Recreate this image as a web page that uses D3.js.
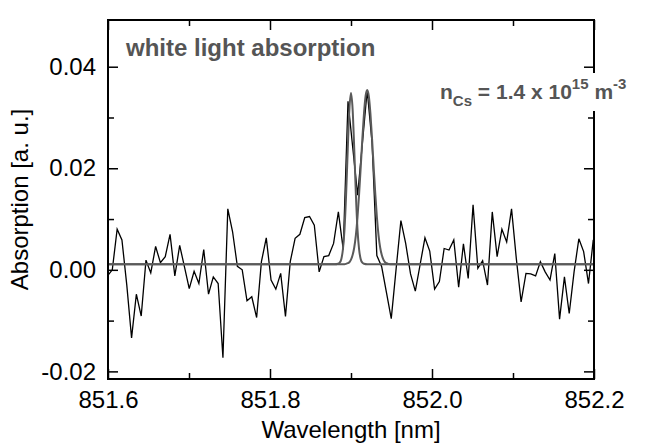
<!DOCTYPE html>
<html><head><meta charset="utf-8">
<script src="https://cdn.jsdelivr.net/npm/d3@7"></script>
<style>body{margin:0;background:#fff}svg{display:block}text{font-family:"Liberation Sans",Arial,sans-serif}</style>
</head><body><svg id="c" width="656" height="444"></svg>
<script>
const wavelengths = [851.5994,851.6053,851.6113,851.6172,851.6232,851.6291,851.6350,851.6410,851.6469,851.6528,
851.6588,851.6647,851.6707,851.6766,851.6825,851.6885,851.6944,851.7003,851.7063,851.7122,
851.7182,851.7241,851.7300,851.7360,851.7419,851.7479,851.7538,851.7597,851.7657,851.7716,
851.7775,851.7835,851.7894,851.7954,851.8013,851.8072,851.8132,851.8191,851.8250,851.8310,
851.8369,851.8429,851.8488,851.8547,851.8607,851.8666,851.8725,851.8785,851.8844,851.8904,
851.8963,851.9022,851.9082,851.9141,851.9200,851.9260,851.9319,851.9379,851.9438,851.9497,
851.9557,851.9616,851.9675,851.9735,851.9794,851.9854,851.9913,851.9972,852.0032,852.0091,
852.0150,852.0210,852.0269,852.0329,852.0388,852.0447,852.0507,852.0566,852.0625,852.0685,
852.0744,852.0804,852.0863,852.0922,852.0982,852.1041,852.1100,852.1160,852.1219,852.1279,
852.1338,852.1397,852.1457,852.1516,852.1575,852.1635,852.1694,852.1754,852.1813,852.1872,
852.1932,852.1991];
const absorption = [-0.0012,0.0000,0.0080,0.0059,-0.0030,-0.0134,-0.0048,-0.0091,0.0019,-0.0006,
0.0046,0.0014,0.0026,0.0070,-0.0012,0.0048,0.0006,-0.0037,-0.0003,-0.0027,
0.0040,-0.0048,-0.0014,-0.0027,-0.0173,0.0120,0.0075,0.0007,0.0000,-0.0061,
-0.0053,-0.0094,0.0016,0.0063,-0.0020,-0.0038,-0.0007,-0.0092,0.0016,0.0062,
0.0070,0.0103,0.0105,0.0088,-0.0004,0.0026,0.0028,0.0052,0.0114,0.0040,
0.0332,0.0240,0.0147,0.0250,0.0354,0.0250,0.0028,0.0006,-0.0045,-0.0096,
0.0002,0.0097,0.0052,-0.0008,-0.0042,0.0011,0.0063,0.0037,-0.0038,-0.0023,
0.0042,0.0039,0.0059,-0.0034,0.0051,-0.0017,0.0128,0.0003,0.0018,-0.0030,
0.0114,0.0026,0.0080,0.0055,0.0120,0.0022,-0.0063,-0.0007,-0.0008,-0.0012,
0.0016,-0.0004,-0.0020,0.0032,-0.0097,-0.0014,-0.0086,-0.0004,0.0061,0.0036,
-0.0027,0.0059];

const fitNarrowX = [851.6,851.880,851.884,851.886,851.888,851.890,851.892,851.894,851.896,851.898,851.900,
851.902,851.904,851.906,851.908,851.910,851.912,851.914,851.916,851.920,852.2];
const fitNarrowY = [0.0011,0.0011,0.0012,0.0014,0.0021,0.0040,0.0080,0.0150,0.0238,0.0316,0.0348,
0.0316,0.0238,0.0150,0.0080,0.0040,0.0021,0.0014,0.0012,0.0011,0.0011];
const fitBroadX = [851.6,851.892,851.896,851.898,851.900,851.902,851.904,851.906,851.908,851.910,851.912,851.914,851.916,851.918,
851.920,851.922,851.924,851.926,851.928,851.930,851.932,851.934,851.936,851.938,851.940,851.942,851.944,851.948,852.2];
const fitBroadY = [0.0011,0.0011,0.0013,0.0015,0.0020,0.0029,0.0044,0.0068,0.0103,0.0149,0.0202,0.0258,0.0307,0.0342,
0.0354,0.0342,0.0307,0.0258,0.0202,0.0149,0.0103,0.0068,0.0044,0.0029,0.0020,0.0015,0.0013,0.0011,0.0011];

const xMajorTicks = [851.6, 851.8, 852.0, 852.2];
const xMinorTicks = [851.7, 851.9, 852.1];
const yMajorTicks = [-0.02, 0.00, 0.02, 0.04];
const yMinorTicks = [-0.01, 0.01, 0.03];

(function(){
const L = 108, R = 594, T = 20, B = 379;
const x = d3.scaleLinear().domain([851.6, 852.2]).range([L, R]);
const y = d3.scaleLinear().domain([-0.0215, 0.0492]).range([B, T]);
const svg = d3.select("#c");

svg.append("clipPath").attr("id","pc").append("rect")
  .attr("x", L).attr("y", T).attr("width", R-L).attr("height", B-T);
const plot = svg.append("g").attr("clip-path","url(#pc)");

const line = d3.line().x(d=>x(d[0])).y(d=>y(d[1]));
plot.append("path").datum(wavelengths.map((w,i)=>[w, absorption[i]]))
  .attr("d", line).attr("fill","none").attr("stroke","#000").attr("stroke-width",1.3);

const smooth = d3.line().x(d=>x(d[0])).y(d=>y(d[1])).curve(d3.curveMonotoneX);
plot.append("path").datum(fitNarrowX.map((w,i)=>[w, fitNarrowY[i]]))
  .attr("d", smooth).attr("fill","none").attr("stroke","#5a5a5a").attr("stroke-width",2);
plot.append("path").datum(fitBroadX.map((w,i)=>[w, fitBroadY[i]]))
  .attr("d", smooth).attr("fill","none").attr("stroke","#5a5a5a").attr("stroke-width",2);

const fmtY = v => d3.format(".2f")(v).replace("\u2212","-");
svg.append("g").attr("transform",`translate(0,${B})`)
  .call(d3.axisBottom(x).tickValues(xMajorTicks).tickSizeInner(-10).tickSizeOuter(0).tickFormat(d3.format(".1f")).tickPadding(12));
svg.append("g").attr("transform",`translate(0,${B})`)
  .call(d3.axisBottom(x).tickValues(xMinorTicks).tickSizeInner(-6).tickSizeOuter(0).tickFormat(""));
svg.append("g").attr("transform",`translate(0,${T})`)
  .call(d3.axisTop(x).tickValues(xMajorTicks).tickSizeInner(-10).tickSizeOuter(0).tickFormat(""));
svg.append("g").attr("transform",`translate(0,${T})`)
  .call(d3.axisTop(x).tickValues(xMinorTicks).tickSizeInner(-6).tickSizeOuter(0).tickFormat(""));
svg.append("g").attr("transform",`translate(${L},0)`)
  .call(d3.axisLeft(y).tickValues(yMajorTicks).tickSizeInner(-10).tickSizeOuter(0).tickFormat(fmtY).tickPadding(12));
svg.append("g").attr("transform",`translate(${L},0)`)
  .call(d3.axisLeft(y).tickValues(yMinorTicks).tickSizeInner(-6).tickSizeOuter(0).tickFormat(""));
svg.append("g").attr("transform",`translate(${R},0)`)
  .call(d3.axisRight(y).tickValues(yMajorTicks).tickSizeInner(-10).tickSizeOuter(0).tickFormat(""));
svg.append("g").attr("transform",`translate(${R},0)`)
  .call(d3.axisRight(y).tickValues(yMinorTicks).tickSizeInner(-6).tickSizeOuter(0).tickFormat(""));

svg.selectAll(".domain").remove();
svg.selectAll(".tick line").attr("stroke", "#000").attr("stroke-width", 1.5);
svg.selectAll(".tick text").attr("font-size", 24).attr("fill","#000").attr("font-family","Liberation Sans, Arial, sans-serif");

svg.append("rect").attr("x",L).attr("y",T).attr("width",R-L).attr("height",B-T)
  .attr("fill","none").attr("stroke","#000").attr("stroke-width",2);

svg.append("text").attr("x",126).attr("y",56).attr("font-size",24).attr("font-weight","bold")
  .attr("fill","#555").text("white light absorption");

svg.append("rect").attr("x",437).attr("y",73).attr("width",180).attr("height",38).attr("fill","#fff");
const ann = svg.append("text").attr("x",440).attr("y",99).attr("font-size",21).attr("font-weight","bold").attr("fill","#555");
ann.append("tspan").text("n");
ann.append("tspan").attr("font-size",15).attr("dy",7).text("Cs");
ann.append("tspan").attr("dy",-7).text(" = 1.4 x 10");
ann.append("tspan").attr("font-size",15).attr("dy",-10).text("15");
ann.append("tspan").attr("dy",10).text(" m");
ann.append("tspan").attr("font-size",15).attr("dy",-10).text("-3");

svg.append("text").attr("x",(L+R)/2).attr("y",438).attr("text-anchor","middle")
  .attr("font-size",24).attr("fill","#000").text("Wavelength [nm]");
svg.append("text").attr("transform",`translate(28,${(T+B)/2}) rotate(-90)`).attr("text-anchor","middle")
  .attr("font-size",24).attr("fill","#000").text("Absorption [a. u.]");
})();
</script></body></html>
